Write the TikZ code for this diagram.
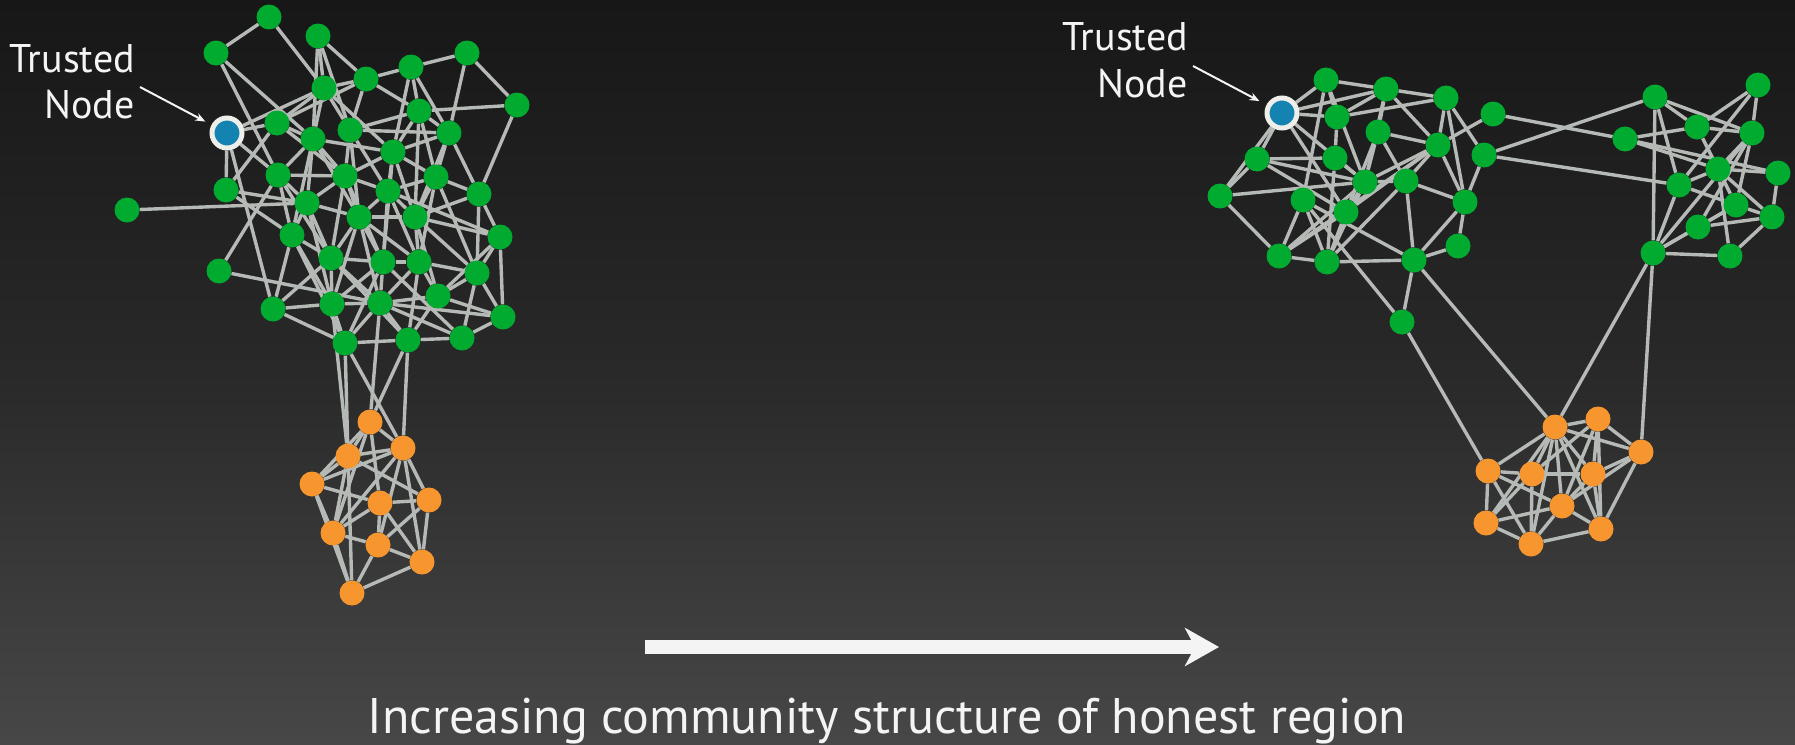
\documentclass[tikz,border=0pt]{standalone}
\usepackage{fontspec}
\setmainfont{PT Sans}
\usetikzlibrary{arrows.meta}
\definecolor{bgtop}{HTML}{171717}
\definecolor{bgmid}{HTML}{292929}
\definecolor{bgbot}{HTML}{474747}
\definecolor{edgegray}{HTML}{B6BAB6}
\definecolor{honest}{HTML}{00AB2F}
\definecolor{sybil}{HTML}{F7962F}
\definecolor{trust}{HTML}{1583B1}
\definecolor{ring}{HTML}{EEEEEA}
\definecolor{ink}{HTML}{F4F4F4}
\pgfdeclarelayer{bg}
\pgfdeclarelayer{edges}
\pgfsetlayers{bg,edges,main}
\begin{document}
\begin{tikzpicture}[x=1pt,y=-1pt,
  hn/.style={circle,fill=honest,minimum size=25pt,inner sep=0pt},
  sn/.style={circle,fill=sybil,minimum size=25pt,inner sep=0pt},
  tn/.style={circle,fill=trust,draw=ring,line width=5pt,minimum size=30pt,inner sep=0pt},
  link/.style={draw=edgegray,line width=3.4pt},
  lbl/.style={text=ink,font=\fontsize{40}{48}\selectfont,inner sep=0pt,anchor=base east},
  pointer/.style={draw=ink,line width=2pt,-{Stealth[length=10pt,width=8pt]}},
]
\useasboundingbox (0,0) rectangle (1795,744);
\begin{pgfonlayer}{bg}
  \shade[top color=bgtop,bottom color=bgbot,middle color=bgmid] (0,0) rectangle (1795,744);
\end{pgfonlayer}

% ---------- left graph: honest region ----------
\node[tn] (ltr) at (227,133) {};
\foreach \n/\x/\y in {
  1/269/17, 2/318/36, 3/216/53, 4/467/53, 5/411/67, 6/366/79, 7/324/88,
  8/517/105, 9/419/111, 10/277/123, 11/350/130, 12/313/139, 13/449/133,
  14/393/152, 15/278/175, 16/345/176, 17/436/177, 18/226/190, 19/388/191,
  20/479/194, 21/127/210, 22/307/203, 23/359/217, 24/415/217, 25/292/235,
  26/500/237, 27/331/258, 28/383/262, 29/419/262, 30/219/271, 31/477/273,
  32/438/296, 33/332/304, 34/380/303, 35/273/309, 36/503/317, 37/345/343,
  38/408/340, 39/462/338}
  \node[hn] (lg\n) at (\x,\y) {};
% left graph: sybil region
\foreach \n/\x/\y in {
  1/370/422, 2/403/448, 3/348/456, 4/312/484, 5/380/503,
  6/429/500, 7/333/533, 8/378/545, 9/422/562, 10/352/593}
  \node[sn] (lo\n) at (\x,\y) {};

% ---------- right graph: honest region ----------
\node[tn] (rtr) at (1282,113) {};
\foreach \n/\x/\y in {
  a/1326/80, b/1386/89, c/1446/98, d/1493/114, e/1337/117, f/1378/132,
  g/1438/145, h/1484/155, i/1257/159, j/1335/158, k/1365/182, l/1406/181,
  m/1220/196, n/1303/200, o/1465/202, p/1346/212, q/1458/246, r/1279/256,
  s/1327/262, t/1414/260, u/1402/322,
  U/1655/97, V/1758/85, W/1625/139, X/1697/127, Y/1752/133, Z/1718/169,
  AA/1778/173, AB/1679/185, AC/1736/205, AD/1772/217, AE/1698/227,
  AF/1653/253, AG/1730/256}
  \node[hn] (r\n) at (\x,\y) {};
% right graph: sybil region
\foreach \n/\x/\y in {
  1/1555/427, 2/1598/419, 3/1641/452, 4/1488/471, 5/1532/474,
  6/1593/474, 7/1562/506, 8/1486/523, 9/1601/529, 10/1531/544}
  \node[sn] (ro\n) at (\x,\y) {};

% ---------- edges ----------
\begin{pgfonlayer}{edges}
\foreach \a/\b in {
  lg1/lg3, lg1/lg7, lg2/lg7, lg2/lg6, lg2/lg11, lg2/lg12,
  lg3/lg12, lg3/lg15,
  lg7/lg6, lg6/lg5, lg5/lg4, lg4/lg8, lg4/lg13, lg8/lg9, lg8/lg20,
  lg5/lg9, lg5/lg14, lg5/lg13, lg6/lg9, lg6/lg11, lg6/lg10,
  lg7/lg10, lg7/lg12, lg7/lg11, lg7/ltr, lg7/lg14,
  ltr/lg10, ltr/lg18, ltr/lg15, ltr/lg35,
  lg10/lg12, lg10/lg18, lg10/lg16,
  lg11/lg9, lg11/lg13, lg11/lg16, lg11/lg19, lg11/lg23,
  lg12/lg14, lg12/lg15, lg12/lg16, lg12/lg22, lg12/lg25, lg12/lg23,
  lg9/lg13, lg9/lg17, lg9/lg14, lg9/lg24,
  lg13/lg14, lg13/lg20, lg13/lg17, lg13/lg24,
  lg14/lg17, lg14/lg19, lg14/lg16, lg14/lg24, lg14/lg28,
  lg15/lg22, lg15/lg25, lg15/lg16, lg15/lg27,
  lg16/lg22, lg16/lg23, lg16/lg19, lg16/lg27, lg16/lg28,
  lg17/lg19, lg17/lg24, lg17/lg20, lg17/lg29, lg17/lg31,
  lg18/lg25, lg18/lg22,
  lg19/lg23, lg19/lg24, lg19/lg29, lg19/lg28, lg19/lg26,
  lg20/lg24, lg20/lg26, lg20/lg31,
  lg21/lg22,
  lg22/lg25, lg22/lg23, lg22/lg27, lg22/lg33,
  lg23/lg24, lg23/lg27, lg23/lg28, lg23/lg29, lg23/lg34, lg23/lg33,
  lg24/lg26, lg24/lg29, lg24/lg31, lg24/lg32,
  lg25/lg27, lg25/lg33, lg25/lg35, lg25/lg37,
  lg26/lg36, lg26/lg31, lg26/lg32,
  lg27/lg28, lg27/lg33, lg27/lg34, lg27/lg35, lg27/lg38,
  lg28/lg29, lg28/lg34, lg28/lg33, lg28/lg39, lg28/lg37,
  lg29/lg31, lg29/lg32, lg29/lg34, lg29/lg38,
  lg30/lg15, lg30/lg34,
  lg31/lg32, lg31/lg36, lg31/lg39,
  lg32/lg36, lg32/lg38, lg32/lg34,
  lg33/lg34, lg33/lg37, lg33/lg35,
  lg34/lg38, lg34/lg36, lg34/lg37, lg34/lg39,
  lg35/lg37, lg37/lg38, lg38/lg39, lg39/lg36,
  lg37/lo3, lg37/lo2, lg38/lo2, lg38/lo1, lg34/lo1, lg33/lo3,
  lo1/lo3, lo1/lo2, lo1/lo4, lo1/lo5, lo1/lo7, lo2/lo3, lo2/lo4, lo2/lo6,
  lo2/lo7, lo2/lo8, lo2/lo9, lo3/lo4, lo3/lo6, lo3/lo7, lo3/lo10, lo4/lo5,
  lo4/lo7, lo4/lo10, lo5/lo7, lo5/lo8, lo5/lo9, lo5/lo6, lo6/lo8, lo6/lo9,
  lo7/lo8, lo7/lo10, lo8/lo9, lo8/lo10, lo9/lo10}
  \draw[link] (\a) -- (\b);
\foreach \a/\b in {
  rtr/ra, rtr/rb, rtr/re, rtr/ri, rtr/rm, rtr/rp, rtr/rk,
  ra/rb, ra/re, ra/rn, ra/rk,
  rb/rc, rb/rg, rb/re, rb/rk, rb/rf,
  rc/re, rc/rg, rc/rh, rc/ro,
  rd/rg, rd/rW, rh/rU, rh/rAB, rh/ro,
  rg/rk, rg/rl, rg/rp, rg/ro, rg/rr,
  ri/rj, ri/rm, ri/rk, ri/rp,
  rm/rk, rm/rr,
  rj/rk, rj/re, rj/rs,
  rk/rl, rk/rp, rk/rs, rk/rr,
  rl/ro, rl/rs, rl/rt, rl/rf,
  rn/rr, rn/rs, rn/rt, rn/ru,
  ro/rq, ro/rt,
  rp/rr, rp/rs, rp/rf,
  rr/rs, rs/rt, rt/rq, rt/ru, rt/ro1, ru/ro4,
  rf/rg, rf/rk,
  rU/rX, rU/rY, rU/rAB, rU/rAF, rV/rX, rV/rY, rV/rAB, rW/rX, rW/rZ, rW/rAA,
  rX/rY, rX/rZ, rY/rZ, rY/rAC, rY/rAE, rY/rAF, rZ/rAB, rZ/rAC, rZ/rAA,
  rZ/rAD, rZ/rAG, rAB/rAF, rAB/rAC, rAC/rAD, rAC/rAE, rAC/rAF, rAD/rAA,
  rAD/rAE, rAD/rAG, rAE/rAF, rAF/rAG, rAF/ro1, rAF/ro3,
  ro1/ro2, ro1/ro3, ro1/ro4, ro1/ro5, ro1/ro6, ro1/ro7, ro1/ro8, ro1/ro9,
  ro1/ro10, ro2/ro3, ro2/ro5, ro2/ro6, ro2/ro7, ro2/ro9, ro3/ro6, ro3/ro9,
  ro3/ro7, ro4/ro5, ro4/ro7, ro4/ro8, ro4/ro10, ro5/ro8, ro5/ro10, ro5/ro6,
  ro6/ro7, ro6/ro9, ro7/ro8, ro7/ro9, ro7/ro10, ro8/ro10, ro9/ro10}
  \draw[link] (\a) -- (\b);
\end{pgfonlayer}

% ---------- labels ----------
\node[lbl] (ltrusted) at (135,72) {Trusted};
\node[lbl] (lnode) at (135,118) {Node};
\coordinate (lptr) at (140,87);
\draw[pointer,shorten >=7pt] (lptr) -- (ltr);

\node[lbl] (rtrusted) at (1188,50) {Trusted};
\node[lbl] (rnode) at (1188,97) {Node};
\coordinate (rptr) at (1193,66);
\draw[pointer,shorten >=8pt] (rptr) -- (rtr);

% ---------- trend arrow and caption ----------
\coordinate (trendA) at (645,647);
\coordinate (trendB) at (1219,647);
\draw[ink,line width=14pt,-{Stealth[length=34pt,width=38pt,inset=10pt]}] (trendA) -- (trendB);
\node[text=ink,font=\fontsize{50}{60}\selectfont,anchor=base,inner sep=0pt] (caption) at (887,733)
  {Increasing community structure of honest region};
\end{tikzpicture}
\end{document}
